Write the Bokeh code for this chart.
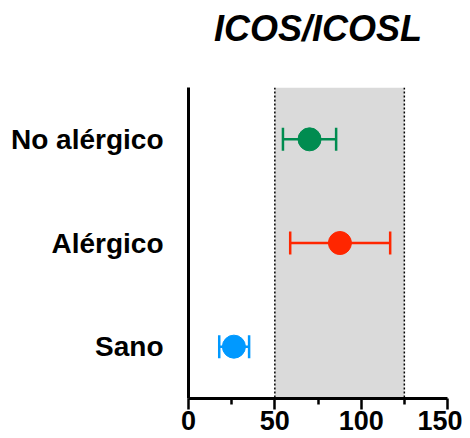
from bokeh.plotting import figure
from bokeh.models import (ColumnDataSource, FactorRange, Range1d, BoxAnnotation, Span,
                          Whisker, TeeHead, FixedTicker, Title)
from bokeh.embed import file_html
from bokeh.resources import INLINE

# data
groups = ["Sano", "Alérgico", "No alérgico"]
means = [26.3, 87.7, 70.1]
lower = [17.8, 58.9, 54.7]
upper = [35.1, 116.8, 85.5]
colors = ["#0099FF", "#FF2600", "#008C50"]
ref_low, ref_high = 50, 125
x_ticks = [0, 50, 100, 150]
x_minor = [25, 75, 125]
title_text = "ICOS/ICOSL"

src = ColumnDataSource(dict(y=groups, x=means, lower=lower, upper=upper, color=colors))

p = figure(width=462, height=438, output_backend="svg", toolbar_location=None, title=None,
           y_range=FactorRange(factors=groups, range_padding=0),
           x_range=Range1d(0, 150),
           min_border_left=188, min_border_right=15, min_border_top=87, min_border_bottom=40)
p.outline_line_color = None
p.grid.visible = False
p.background_fill_color = "white"

# title (spacer first so the title sits higher above the frame)
p.add_layout(Title(text=" ", text_font_size="20px", text_font="Liberation Sans"), "above")
p.add_layout(Title(text=title_text, align="center", text_font="Liberation Sans",
                   text_font_size="36px", text_font_style="bold italic",
                   text_color="black"), "above")

# reference band
p.add_layout(BoxAnnotation(left=ref_low, right=ref_high, fill_color="#DADADA", fill_alpha=1,
                           line_color=None, level="underlay"))
for v in (ref_low, ref_high):
    p.add_layout(Span(location=v, dimension="height", line_color="black", line_width=1.5,
                      line_dash="2 2", level="underlay"))

# error bars
w = Whisker(base="y", lower="lower", upper="upper", dimension="width", source=src,
            line_color="color", line_width=2.5,
            upper_head=TeeHead(size=23, line_color="color", line_width=2.5),
            lower_head=TeeHead(size=23, line_color="color", line_width=2.5))
p.add_layout(w)
p.scatter("x", "y", source=src, size=23, fill_color="color", line_color="color")

# axes
xa = p.xaxis[0]
xa.ticker = FixedTicker(ticks=x_ticks, minor_ticks=x_minor)
xa.axis_line_width = 3
xa.major_tick_line_width = 2.5
xa.minor_tick_line_width = 2.5
xa.major_tick_out = 11
xa.major_tick_in = 0
xa.minor_tick_out = 6
xa.minor_tick_in = 0
xa.major_label_text_font = "Liberation Sans"
xa.major_label_text_font_size = "27px"
xa.major_label_text_font_style = "bold"
xa.major_label_text_color = "black"
xa.major_label_standoff = 1

ya = p.yaxis[0]
ya.axis_line_width = 3
ya.major_tick_line_color = None
ya.minor_tick_line_color = None
ya.major_tick_out = 0
ya.major_tick_in = 0
ya.major_label_standoff = 25
ya.major_label_text_font = "Liberation Sans"
ya.major_label_text_font_size = "28px"
ya.major_label_text_font_style = "bold"
ya.major_label_text_color = "black"

open("out.html", "w").write(file_html(p, INLINE))
